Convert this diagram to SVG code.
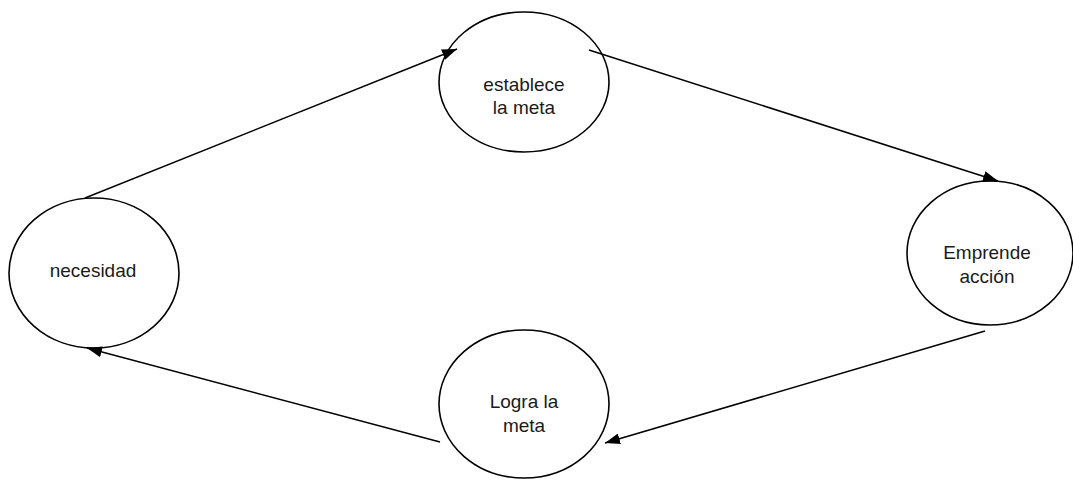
<svg xmlns="http://www.w3.org/2000/svg" width="1073" height="480" viewBox="0 0 1073 480">
<defs>
<marker id="arr" viewBox="0 0 15 11" refX="15" refY="5.5" markerWidth="15" markerHeight="11" markerUnits="userSpaceOnUse" orient="auto">
<path d="M0,0 L15,5.5 L0,11 Z" fill="#000"/>
</marker>
<style>
.n{fill:#fff;stroke:#000;stroke-width:1.6}
.t{font-family:"Liberation Sans",Arial,sans-serif;font-size:19px;fill:#1a1a1a;text-anchor:middle}
.c{stroke:#000;stroke-width:1.5;fill:none;marker-end:url(#arr)}
</style>
</defs>
<rect width="1073" height="480" fill="#fff"/>
<g id="necesidad">
<ellipse class="n" cx="94" cy="273" rx="85" ry="75"/>
<text class="t" x="93" y="277">necesidad</text>
</g>
<g id="establece">
<ellipse class="n" cx="524" cy="82" rx="85" ry="70"/>
<text class="t" x="524" y="91">establece</text>
<text class="t" x="524" y="114">la meta</text>
</g>
<g id="emprende">
<ellipse class="n" cx="990" cy="253" rx="83" ry="72"/>
<text class="t" x="987" y="259">Emprende</text>
<text class="t" x="987" y="283">acción</text>
</g>
<g id="logra">
<ellipse class="n" cx="524" cy="404" rx="85" ry="74"/>
<text class="t" x="524" y="408">Logra la</text>
<text class="t" x="524" y="432">meta</text>
</g>
<g id="connectors">
<line class="c" x1="85" y1="198" x2="457" y2="49"/>
<line class="c" x1="589" y1="50" x2="998" y2="181"/>
<line class="c" x1="985" y1="331" x2="605" y2="443"/>
<line class="c" x1="440" y1="442" x2="87" y2="348"/>
</g>
</svg>
